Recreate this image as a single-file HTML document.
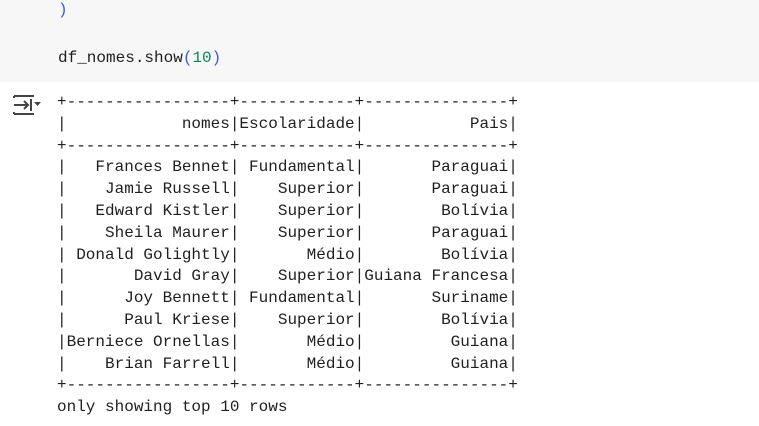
<!DOCTYPE html>
<html><head><style>
body{margin:0;width:759px;height:426px;overflow:hidden;background:#fff;font-family:"Liberation Mono",monospace;color:#1f1f1f}
.code{position:absolute;left:0;top:0;width:759px;height:82px;background:#f7f7f7}
.c{position:absolute;left:58px;font-size:16px;white-space:pre;line-height:20px}
.p{color:#3b5bdb}.n{color:#098658}
pre{position:absolute;left:57px;top:92px;margin:0;font-family:"Liberation Mono",monospace;font-size:16px;line-height:21.8px;color:#1f1f1f}
</style></head><body>
<div class="code">
<div class="c p" style="top:0px">)</div>
<div class="c" style="top:48px">df_nomes.show<span class="p">(</span><span class="n">10</span><span class="p">)</span></div>
</div>
<svg style="position:absolute;left:12px;top:93px" width="30" height="24" viewBox="0 0 30 24">
<path d="M2 3h20M2 21h20M2 3v2M2 19v2" stroke="#444" stroke-width="2" fill="none"/>
<path d="M2 12h14M12 8l4 4-4 4" stroke="#444" stroke-width="2" fill="none"/>
<path d="M19 6v12" stroke="#444" stroke-width="2"/>
<path d="M22 9h7l-3.5 4z" fill="#444"/>
</svg>
<pre>+-----------------+------------+---------------+
|            nomes|Escolaridade|           Pais|
+-----------------+------------+---------------+
|   Frances Bennet| Fundamental|       Paraguai|
|    Jamie Russell|    Superior|       Paraguai|
|   Edward Kistler|    Superior|        Bolívia|
|    Sheila Maurer|    Superior|       Paraguai|
| Donald Golightly|       Médio|        Bolívia|
|       David Gray|    Superior|Guiana Francesa|
|      Joy Bennett| Fundamental|       Suriname|
|      Paul Kriese|    Superior|        Bolívia|
|Berniece Ornellas|       Médio|         Guiana|
|    Brian Farrell|       Médio|         Guiana|
+-----------------+------------+---------------+
only showing top 10 rows</pre>
</body></html>
